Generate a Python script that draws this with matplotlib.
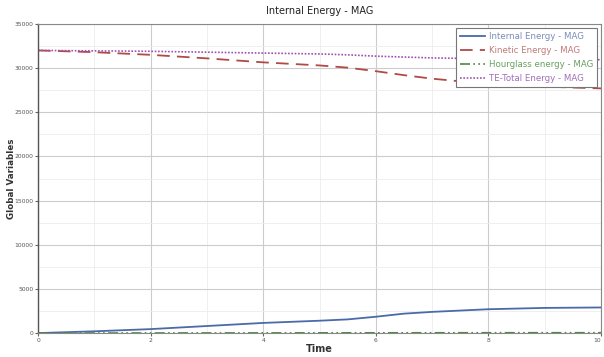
import matplotlib
matplotlib.use("Agg")
import matplotlib.pyplot as plt
from matplotlib.ticker import MultipleLocator

time = [0, 1, 2, 3, 4, 5, 5.5, 6, 6.5, 7, 8, 9, 10]
internal = [0, 200, 450, 800, 1150, 1400, 1550, 1850, 2200, 2400, 2700, 2850, 2900]
kinetic = [32000, 31800, 31500, 31100, 30650, 30300, 30050, 29650, 29200, 28800, 28200, 27900, 27700]
hourglass = [0, 5, 10, 15, 20, 25, 27, 30, 32, 35, 38, 40, 42]
te_total = [32000, 31950, 31900, 31800, 31700, 31600, 31500, 31350, 31250, 31150, 31050, 31000, 30950]

labels = ["Internal Energy - MAG", "Kinetic Energy - MAG",
          "Hourglass energy - MAG", "TE-Total Energy - MAG"]
colors = ["#4a6aa8", "#b04a46", "#4e8a40", "#a050b0"]
text_colors = ["#7a8cb8", "#c07a78", "#6aa060", "#a070b8"]

fig = plt.figure(figsize=(6.04, 3.57), dpi=100)
ax = fig.add_axes([0.063, 0.067, 0.932, 0.866])

l1, = ax.plot(time, internal, color=colors[0], lw=1.3, ls="-")
l2, = ax.plot(time, kinetic, color=colors[1], lw=1.3, ls=(0, (7, 4)))
l3, = ax.plot(time, hourglass, color=colors[2], lw=1.2, ls=(0, (6, 2, 1, 2, 1, 2)))
l4, = ax.plot(time, te_total, color=colors[3], lw=1.2, ls=(0, (1, 1)))

ax.set_xlim(0, 10)
ax.set_ylim(0, 35000)
ax.xaxis.set_major_locator(MultipleLocator(2))
ax.xaxis.set_minor_locator(MultipleLocator(1))
ax.yaxis.set_major_locator(MultipleLocator(5000))
ax.yaxis.set_minor_locator(MultipleLocator(2500))
ax.grid(which="major", color="#cccccc", lw=0.8)
ax.grid(which="minor", color="#ececec", lw=0.6)
ax.tick_params(which="major", labelsize=4.3, labelcolor="#555555", length=2, color="#666666", pad=1.5)
ax.tick_params(which="minor", length=0)
for s in ax.spines.values():
    s.set_color("#888888")
ax.spines["left"].set_color("#555555")
ax.spines["left"].set_linewidth(1.0)

ax.set_title("Internal Energy - MAG", fontsize=7, color="#222222", pad=7)
ax.set_xlabel("Time", fontsize=7, fontweight="bold", color="#333333", labelpad=1)
ax.set_ylabel("Global Variables", fontsize=6.3, fontweight="bold", color="#333333")
ax.yaxis.set_label_coords(-0.04, 0.5)

leg = ax.legend([l1, l2, l3, l4], labels, loc="upper right", fontsize=6.2,
                frameon=True, fancybox=False, edgecolor="#777777",
                handlelength=3.0, handletextpad=0.4, labelspacing=0.6,
                borderpad=0.4, borderaxespad=0.5, framealpha=1)
leg.get_frame().set_linewidth(0.8)
for t, c in zip(leg.get_texts(), text_colors):
    t.set_color(c)

fig.canvas.draw()
ticks = ax.xaxis.get_major_ticks()
for tk in ticks:
    if abs(tk.get_loc() - 10) < 1e-9:
        tk.label1.set_horizontalalignment("right")

fig.savefig("out.png", dpi=100)
